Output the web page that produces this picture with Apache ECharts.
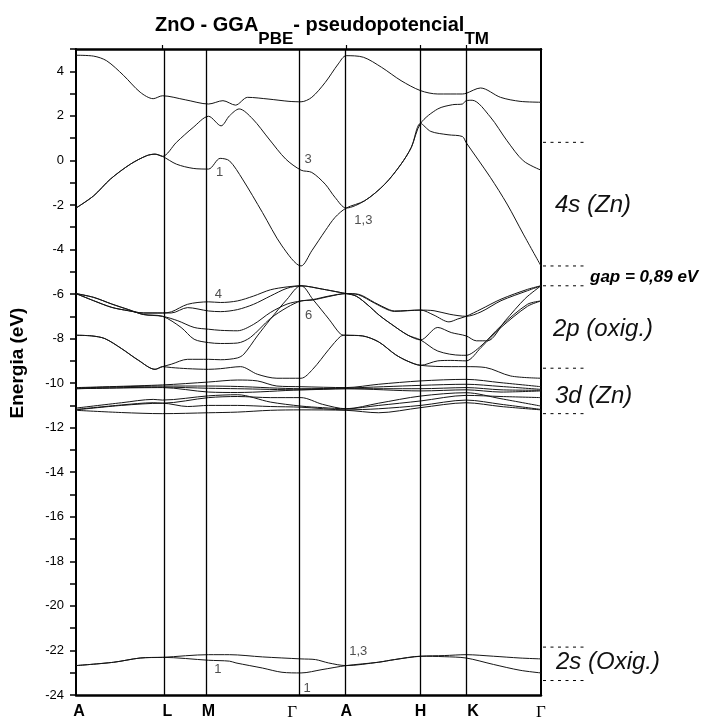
<!DOCTYPE html>
<html>
<head>
<meta charset="utf-8">
<script src="https://cdn.jsdelivr.net/npm/echarts@6/dist/echarts.min.js"></script>
<style>
  html, body { margin: 0; padding: 0; background: #fff; }
  #chart { width: 715px; height: 721px; }
</style>
</head>
<body>
<div id="chart"></div>
<script>
// High-symmetry points along the k-path (path length normalised to 1)
const kPoints = [0, 0.186, 0.285, 0.484, 0.581, 0.741, 0.839, 1.0];
const kLabels = ['A', 'L', 'M', 'Γ', 'A', 'H', 'K', 'Γ'];

// Band edges at Γ (eV)
const cbm = -4.74;
const vbm = -5.63;

// Conduction bands (Zn 4s) : [k, E]
const cb1 = [[0,-2.14],[0.038,-1.59],[0.074,-0.84],[0.117,-0.17],[0.152,0.21],[0.170,0.28],[0.186,0.18],[0.216,-0.17],[0.252,-0.36],[0.285,-0.39],[0.310,0.09],[0.330,-0.02],[0.358,-0.84],[0.401,-2.34],[0.443,-3.84],[0.484,-4.74],[0.507,-4.06],[0.536,-3.16],[0.557,-2.56],[0.581,-2.14],[0.621,-1.81],[0.664,-1.07],[0.699,-0.17],[0.721,0.58],[0.741,1.66],[0.763,1.30],[0.800,1.15],[0.831,1.07],[0.839,0.80],[0.891,-0.76],[0.927,-1.96],[0.962,-3.31],[1.0,-4.74]];
const cb2 = [[0,-2.14],[0.038,-1.59],[0.074,-0.84],[0.117,-0.17],[0.152,0.21],[0.170,0.28],[0.186,0.18],[0.216,0.81],[0.252,1.48],[0.285,1.98],[0.312,1.55],[0.330,2.0],[0.351,2.31],[0.380,1.86],[0.415,0.96],[0.451,0.06],[0.484,-0.44],[0.507,-0.54],[0.536,-1.07],[0.557,-1.66],[0.581,-2.14],[0.621,-1.81],[0.664,-1.07],[0.699,-0.17],[0.721,0.58],[0.741,1.66],[0.778,2.31],[0.810,2.50],[0.831,2.53],[0.839,2.68],[0.852,2.70],[0.891,1.95],[0.927,0.88],[0.962,-0.02],[1.0,-0.44]];
const cb3 = [[0,4.72],[0.038,4.68],[0.066,4.47],[0.102,3.82],[0.138,3.06],[0.166,2.77],[0.186,2.90],[0.235,2.72],[0.285,2.53],[0.316,2.68],[0.343,2.48],[0.369,2.83],[0.415,2.75],[0.458,2.65],[0.484,2.63],[0.507,2.83],[0.536,3.50],[0.564,4.33],[0.581,4.70],[0.618,4.63],[0.657,4.18],[0.699,3.58],[0.741,3.13],[0.778,2.98],[0.831,2.98],[0.839,3.01],[0.870,3.25],[0.913,2.83],[0.955,2.65],[1.0,2.61]];

// Valence bands (O 2p)
const p1 = [[0,-5.98],[0.038,-6.3],[0.077,-6.6],[0.113,-6.75],[0.145,-6.85],[0.186,-6.85],[0.205,-6.8],[0.240,-6.46],[0.285,-6.35],[0.311,-6.38],[0.347,-6.31],[0.382,-6.09],[0.418,-5.81],[0.454,-5.68],[0.484,-5.63],[0.530,-5.78],[0.566,-5.92],[0.581,-5.98],[0.607,-6.01],[0.642,-6.38],[0.671,-6.68],[0.685,-6.76],[0.741,-6.72],[0.770,-6.95],[0.802,-7.25],[0.821,-7.12],[0.839,-7.0],[0.871,-6.68],[0.914,-6.23],[0.971,-5.79],[1.0,-5.63]];
const p2 = [[0,-5.98],[0.038,-6.3],[0.077,-6.6],[0.113,-6.75],[0.145,-6.85],[0.186,-6.85],[0.205,-6.85],[0.240,-6.61],[0.285,-6.76],[0.311,-6.79],[0.347,-6.7],[0.382,-6.46],[0.418,-6.09],[0.454,-5.74],[0.484,-5.63],[0.509,-6.23],[0.544,-7.13],[0.569,-7.8],[0.581,-7.85],[0.616,-7.88],[0.651,-8.15],[0.687,-8.72],[0.714,-9.02],[0.741,-9.2],[0.778,-9.0],[0.806,-8.98],[0.839,-9.0],[0.871,-8.4],[0.914,-7.5],[0.971,-6.55],[1.0,-6.31]];
const p3 = [[0,-5.98],[0.038,-6.15],[0.077,-6.45],[0.113,-6.7],[0.145,-6.92],[0.186,-7.0],[0.219,-7.2],[0.254,-7.5],[0.285,-7.58],[0.311,-7.63],[0.347,-7.65],[0.382,-7.36],[0.418,-6.83],[0.454,-6.45],[0.484,-6.31],[0.509,-6.25],[0.544,-6.09],[0.581,-5.98],[0.607,-6.03],[0.642,-6.41],[0.671,-6.71],[0.685,-6.78],[0.741,-6.72],[0.770,-6.75],[0.804,-6.91],[0.839,-7.0],[0.871,-6.8],[0.914,-6.3],[0.971,-5.85],[1.0,-5.63]];
const p4 = [[0,-5.98],[0.038,-6.15],[0.077,-6.45],[0.113,-6.7],[0.145,-6.92],[0.186,-7.0],[0.226,-7.5],[0.254,-8.03],[0.285,-8.18],[0.311,-8.22],[0.347,-8.2],[0.375,-7.95],[0.418,-7.1],[0.454,-6.6],[0.484,-6.31],[0.509,-6.27],[0.544,-6.11],[0.581,-5.98],[0.603,-6.1],[0.628,-6.5],[0.652,-6.95],[0.678,-7.35],[0.714,-7.85],[0.741,-8.06],[0.778,-7.5],[0.807,-7.73],[0.839,-7.88],[0.861,-8.1],[0.885,-8.1],[0.923,-7.2],[0.966,-6.2],[1.0,-5.63]];
const p5 = [[0,-7.85],[0.034,-7.88],[0.062,-8.0],[0.098,-8.45],[0.134,-8.97],[0.170,-9.38],[0.186,-9.26],[0.205,-9.15],[0.240,-8.93],[0.285,-8.93],[0.311,-8.95],[0.347,-8.87],[0.361,-8.7],[0.390,-7.88],[0.418,-7.13],[0.454,-6.23],[0.484,-5.63],[0.530,-5.78],[0.566,-5.92],[0.581,-5.98],[0.603,-6.1],[0.628,-6.5],[0.652,-6.95],[0.678,-7.35],[0.714,-7.85],[0.741,-8.06],[0.778,-8.56],[0.829,-8.75],[0.839,-8.75],[0.871,-8.33],[0.914,-7.43],[0.971,-6.46],[1.0,-6.31]];
const p6 = [[0,-7.85],[0.034,-7.88],[0.062,-8.0],[0.098,-8.45],[0.134,-8.97],[0.170,-9.38],[0.186,-9.26],[0.205,-9.3],[0.240,-9.35],[0.285,-9.38],[0.311,-9.35],[0.354,-9.26],[0.390,-9.6],[0.432,-9.78],[0.484,-9.78],[0.509,-9.38],[0.544,-8.48],[0.569,-7.9],[0.581,-7.85],[0.616,-7.88],[0.651,-8.15],[0.687,-8.72],[0.714,-9.02],[0.741,-9.2],[0.807,-9.26],[0.839,-9.26],[0.881,-9.3],[0.935,-9.68],[1.0,-9.78]];

// Zn 3d bands
const d1 = [[0,-10.2],[0.186,-10.08],[0.285,-9.95],[0.347,-9.86],[0.390,-9.9],[0.432,-10.13],[0.484,-10.16],[0.581,-10.2],[0.651,-10.05],[0.741,-9.9],[0.839,-9.83],[0.914,-9.98],[1.0,-10.16]];
const d2 = [[0,-10.22],[0.186,-10.13],[0.285,-10.13],[0.347,-10.15],[0.484,-10.25],[0.581,-10.22],[0.741,-10.1],[0.839,-10.05],[0.914,-10.15],[1.0,-10.28]];
const d3 = [[0,-10.25],[0.186,-10.18],[0.285,-10.23],[0.347,-10.25],[0.484,-10.3],[0.581,-10.25],[0.741,-10.25],[0.839,-10.2],[0.914,-10.3],[1.0,-10.32]];
const d4 = [[0,-11.12],[0.098,-10.88],[0.166,-10.73],[0.186,-10.76],[0.285,-10.57],[0.347,-10.52],[0.418,-10.85],[0.484,-11.03],[0.530,-11.1],[0.581,-11.15],[0.651,-10.9],[0.741,-10.58],[0.839,-10.43],[0.914,-10.7],[1.0,-11.03]];
const d5 = [[0,-11.18],[0.098,-10.98],[0.166,-10.88],[0.186,-10.9],[0.285,-10.65],[0.347,-10.6],[0.418,-10.65],[0.484,-10.65],[0.530,-10.95],[0.581,-11.15],[0.651,-11.0],[0.741,-10.8],[0.839,-10.55],[0.914,-10.6],[1.0,-10.65]];
const d6 = [[0,-11.22],[0.098,-11.32],[0.186,-11.37],[0.285,-11.33],[0.347,-11.3],[0.418,-11.22],[0.484,-11.2],[0.581,-11.22],[0.651,-11.33],[0.741,-11.1],[0.839,-10.88],[0.914,-11.05],[1.0,-11.2]];
const d7 = [[0,-11.2],[0.098,-11.0],[0.186,-10.9],[0.240,-11.05],[0.285,-11.0],[0.347,-11.0],[0.418,-11.05],[0.484,-11.08],[0.581,-11.2],[0.651,-11.15],[0.741,-11.0],[0.839,-10.76],[0.914,-10.95],[1.0,-11.18]];
const d8 = [[0,-10.25],[0.186,-10.2],[0.285,-10.4],[0.347,-10.42],[0.484,-10.3],[0.581,-10.25],[0.741,-10.35],[0.839,-10.3],[0.914,-10.4],[1.0,-10.35]];

// O 2s bands
const s1 = [[0,-22.68],[0.081,-22.53],[0.138,-22.34],[0.186,-22.31],[0.285,-22.44],[0.330,-22.48],[0.344,-22.56],[0.401,-22.79],[0.443,-22.98],[0.484,-23.01],[0.529,-22.86],[0.581,-22.68],[0.650,-22.53],[0.685,-22.41],[0.741,-22.26],[0.792,-22.28],[0.839,-22.34],[0.898,-22.63],[0.955,-22.89],[1.0,-23.01]];
const s2 = [[0,-22.68],[0.081,-22.53],[0.138,-22.34],[0.186,-22.31],[0.285,-22.19],[0.330,-22.19],[0.401,-22.29],[0.484,-22.38],[0.515,-22.41],[0.543,-22.56],[0.581,-22.68],[0.650,-22.53],[0.685,-22.41],[0.741,-22.26],[0.792,-22.23],[0.839,-22.19],[0.898,-22.26],[0.955,-22.34],[1.0,-22.38]];

// Degeneracy labels beside the bands: [k, E, text]
const bandTags = [[0.309,-0.54,'1'],[0.499,0.03,'3'],[0.618,-2.71,'1,3'],[0.306,-6.01,'4'],[0.500,-6.95,'6'],[0.305,-22.86,'1'],[0.497,-23.69,'1'],[0.607,-22.04,'1,3']];

// Orbital regions to the right of the plot
const regionBounds = [0.81, -9.33, -11.37, -21.85, -23.35];
const regionNames = ['4s (Zn)', '2p (oxig.)', '3d (Zn)', '2s (Oxig.)'];
const regionCentres = [-2.04, -7.58, -10.58, -22.55];

const bands = [cb1, cb2, cb3, p1, p2, p3, p4, p5, p6, d1, d2, d3, d4, d5, d6, d7, d8, s1, s2];

const FONT = '"Liberation Sans", Arial, Helvetica, sans-serif';

const chart = echarts.init(document.getElementById('chart'), null, { renderer: 'canvas' });

function kLabel(v) {
  const i = kPoints.findIndex(k => Math.abs(k - v) < 1e-6);
  if (i < 0) return '';
  const t = kLabels[i];
  if (t === 'Γ') return i === 3 ? '{gl|Γ}' : '{g|Γ}';
  if (i === 0) return '{a0|' + t + '}';
  if (i === 1) return '{r|' + t + '}';
  if (i === 6) return '{r2|' + t + '}';
  return t;
}

const series = bands.map(b => ({
  type: 'line',
  data: b,
  smooth: 0.3,
  symbol: 'none',
  silent: true,
  clip: true,
  lineStyle: { color: '#151515', width: 1 },
  z: 3
}));

// vertical lines at the high-symmetry points
series.push({
  type: 'line',
  data: [],
  silent: true,
  markLine: {
    silent: true,
    symbol: ['none', 'none'],
    label: { show: false },
    lineStyle: { type: 'solid', color: '#000', width: 1.3 },
    data: kPoints.slice(1, -1).map(k => ({ xAxis: k }))
  }
});

series.push({
  type: 'scatter',
  symbolSize: 1,
  silent: true,
  itemStyle: { color: 'rgba(0,0,0,0)' },
  data: bandTags.map(t => ({ value: [t[0], t[1]], name: t[2] })),
  label: {
    show: true,
    position: 'inside',
    formatter: p => p.name,
    fontFamily: FONT,
    fontSize: 13,
    color: '#222'
  },
  z: 5
});

const option = {
  animation: false,
  backgroundColor: '#fff',
  title: {
    text: '{m|ZnO - GGA}{s|PBE}{m|- pseudopotencial}{s|TM}',
    left: 150,
    top: 10,
    textStyle: {
      rich: {
        m: { fontFamily: FONT, fontWeight: 'bold', fontSize: 20, color: '#000', lineHeight: 33, verticalAlign: 'top' },
        s: { fontFamily: FONT, fontWeight: 'bold', fontSize: 17, color: '#000', lineHeight: 33, verticalAlign: 'bottom' }
      }
    }
  },
  grid: { left: 72, right: 174, top: 49, bottom: 26, containLabel: false },
  xAxis: [
    {
      type: 'value', min: 0, max: 1, position: 'bottom',
      axisLine: { show: true, onZero: false, lineStyle: { color: '#000', width: 2.5 } },
      axisTick: { show: false },
      splitLine: { show: false },
      axisLabel: {
        customValues: kPoints,
        formatter: kLabel,
        margin: 9,
        color: '#000',
        fontFamily: FONT,
        fontWeight: 'bold',
        fontSize: 16,
        rich: {
          g: { fontFamily: '"Liberation Serif", "Times New Roman", serif', fontWeight: 'normal', fontSize: 17, color: '#000' },
          gl: { fontFamily: '"Liberation Serif", "Times New Roman", serif', fontWeight: 'normal', fontSize: 17, color: '#000', padding: [0, 18, 0, 0] },
          a0: { fontFamily: FONT, fontWeight: 'bold', fontSize: 16, color: '#000', padding: [0, 0, 0, 6] },
          r: { fontFamily: FONT, fontWeight: 'bold', fontSize: 16, color: '#000', padding: [0, 0, 0, 10] },
          r2: { fontFamily: FONT, fontWeight: 'bold', fontSize: 16, color: '#000', padding: [0, 0, 0, 14] }
        }
      }
    },
    {
      type: 'value', min: 0, max: 1, position: 'top',
      axisLine: { show: true, onZero: false, lineStyle: { color: '#000', width: 2.5 } },
      axisTick: { show: true, customValues: [kPoints[1], kPoints[4], kPoints[5], kPoints[6]], length: 4, lineStyle: { color: '#000', width: 1.2 } },
      axisLabel: { show: false },
      splitLine: { show: false }
    }
  ],
  yAxis: [
    {
      type: 'value', min: -24, max: 5, interval: 1, position: 'left',
      name: 'Energia (eV)',
      nameLocation: 'middle',
      nameGap: 49,
      nameTextStyle: { fontFamily: FONT, fontWeight: 'bold', fontSize: 19, color: '#000', padding: [0, 0, 0, 18] },
      axisLine: { show: true, onZero: false, lineStyle: { color: '#000', width: 2 } },
      axisTick: { show: true, length: 6, lineStyle: { color: '#000', width: 1.5 } },
      axisLabel: {
        formatter: v => (v % 2 === 0 && v < 5) ? String(v) : '',
        margin: 12,
        fontFamily: FONT,
        fontSize: 13,
        color: '#000'
      },
      splitLine: { show: false }
    },
    {
      type: 'value', min: -24, max: 5, position: 'right',
      axisLine: { show: true, onZero: false, lineStyle: { color: '#000', width: 2 } },
      axisTick: { show: false },
      axisLabel: { show: false },
      splitLine: { show: false }
    }
  ],
  series: series
};

chart.setOption(option);

// Orbital-region annotations outside the right edge of the plot
const xRight = chart.convertToPixel({ xAxisIndex: 0 }, 1);
const yPx = v => chart.convertToPixel({ yAxisIndex: 0 }, v);
const graphics = [];
const dotted = (v, len) => ({
  type: 'line',
  silent: true,
  shape: { x1: xRight + 2, y1: yPx(v), x2: xRight + len, y2: yPx(v) },
  style: { stroke: '#000', lineWidth: 1, lineDash: [3, 4.5] }
});
regionBounds.forEach(v => graphics.push(dotted(v, 45)));
graphics.push(dotted(cbm, 46));
graphics.push(dotted(vbm, 46));
const regionLeft = [14, 12, 14, 15];
regionNames.forEach((t, i) => graphics.push({
  type: 'text',
  silent: true,
  x: xRight + regionLeft[i],
  y: yPx(regionCentres[i]),
  style: {
    text: t,
    fontFamily: FONT,
    fontStyle: 'italic',
    fontSize: 24,
    fill: '#111',
    verticalAlign: 'middle'
  }
}));
graphics.push({
  type: 'text',
  silent: true,
  x: xRight + 49,
  y: yPx((cbm + vbm) / 2) + 1,
  style: {
    text: 'gap = ' + (cbm - vbm).toFixed(2).replace('.', ',') + ' eV',
    fontFamily: FONT,
    fontStyle: 'italic',
    fontWeight: 'bold',
    fontSize: 17,
    fill: '#000',
    verticalAlign: 'middle'
  }
});
chart.setOption({ graphic: graphics });
</script>
</body>
</html>
